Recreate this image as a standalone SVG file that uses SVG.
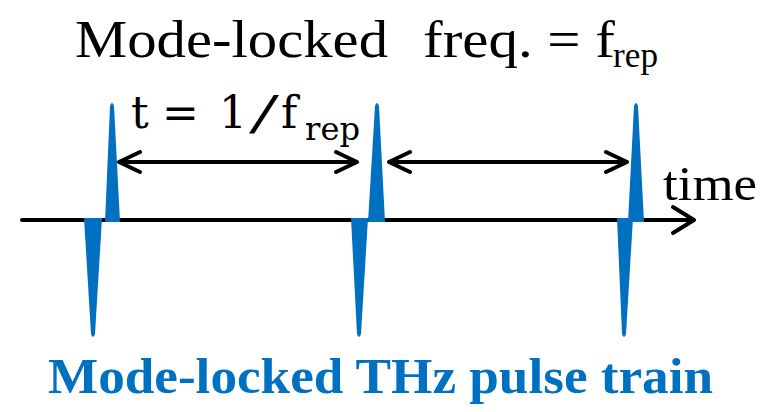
<svg xmlns="http://www.w3.org/2000/svg" width="771" height="412" viewBox="0 0 771 412">
<style>
.pulse{fill:#0070C0;stroke:none}
.ln{fill:none;stroke:#000;stroke-width:4;stroke-linecap:round;stroke-linejoin:round}
.serif{font-family:"Liberation Serif","Times New Roman",serif;fill:#000}
.math{font-family:"DejaVu Serif","Liberation Serif",serif;fill:#000}
.blue{font-family:"Liberation Serif","Times New Roman",serif;font-weight:bold;fill:#0070C0}
</style>
<rect width="771" height="412" fill="#fff"/>
<g id="connectors">
  <path class="ln" d="M22,220 H693 M673,207 L694,220 L673,233"/>
  <path class="ln" d="M119,162 H357 M140,152 L119,162 L140,172 M336,152 L357,162 L336,172"/>
  <path class="ln" d="M389,162 H627 M410,152 L389,162 L410,172 M606,152 L627,162 L606,172"/>
</g>
<g id="pulse1">
  <path class="pulse" d="M105,222 L110,106 Q112,100 114,106 L120,222 Z"/>
  <path class="pulse" d="M84,218 L102,218 L95,334 Q93,340 91,334 Z"/>
</g>
<g id="pulse2">
  <path class="pulse" d="M368,222 L375,106 Q377,100 379,106 L385,222 Z"/>
  <path class="pulse" d="M351,218 L368,218 L361,334 Q359,340 357,334 Z"/>
</g>
<g id="pulse3">
  <path class="pulse" d="M628,222 L634,106 Q636,100 638,106 L644,222 Z"/>
  <path class="pulse" d="M617,218 L633,218 L626,334 Q624,340 622,334 Z"/>
</g>
<g id="title">
  <text class="serif" x="75" y="57" font-size="53" textLength="313" lengthAdjust="spacingAndGlyphs">Mode-locked</text>
  <text class="serif" x="423" y="57" font-size="53" textLength="192" lengthAdjust="spacingAndGlyphs">freq. = f</text>
  <text class="serif" x="613" y="67" font-size="36" textLength="45" lengthAdjust="spacingAndGlyphs">rep</text>
</g>
<g id="period-label">
  <text class="math" y="128" font-size="44"><tspan x="131">t</tspan><tspan x="162">=</tspan><tspan x="219">1</tspan><tspan x="281">f</tspan></text>
  <text class="serif" x="249" y="133" font-size="56" textLength="30" lengthAdjust="spacingAndGlyphs">/</text>
  <text class="math" x="305" y="140" font-size="32" textLength="55" lengthAdjust="spacingAndGlyphs">rep</text>
</g>
<g id="time-label">
  <text class="serif" x="663" y="200" font-size="48" textLength="94" lengthAdjust="spacingAndGlyphs">time</text>
</g>
<g id="caption">
  <text class="blue" x="48" y="393" font-size="50" textLength="665" lengthAdjust="spacingAndGlyphs">Mode-locked THz pulse train</text>
</g>
</svg>
